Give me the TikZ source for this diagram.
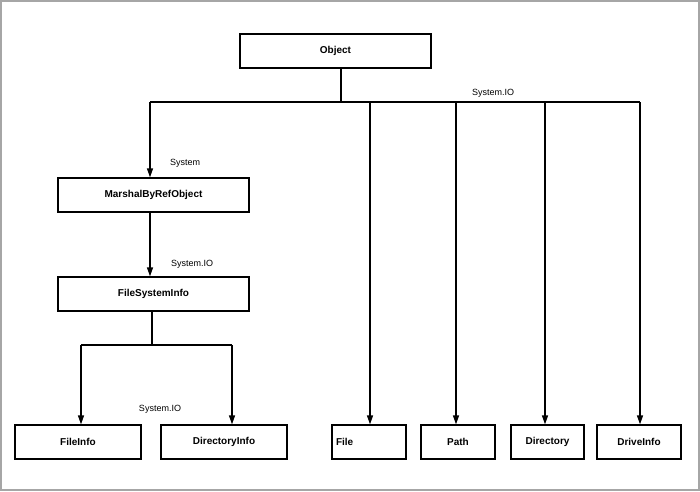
\documentclass[tikz,border=0pt]{standalone}
\usepackage{fontspec}
\setmainfont{Liberation Sans}
\usetikzlibrary{arrows.meta}
\begin{document}
\begin{tikzpicture}[x=1pt,y=-1pt,
  box/.style={draw,line width=1.3pt,minimum height=34pt,inner sep=0pt,font=\bfseries\fontsize{10}{12}\selectfont},
  conn/.style={line width=1.3pt},
  arr/.style={conn,-{Triangle[length=9pt,width=6pt]}},
  lbl/.style={font=\fontsize{9}{11}\selectfont,inner sep=0pt}]
\useasboundingbox (0,0) rectangle (700,491);
\draw[gray!70,line width=2pt] (1,1) rectangle (699,490);
\node[box,minimum width=191pt] (obj) at (335.5,51) {Object};
\node[box,minimum width=191pt] (mbro) at (153.5,195) {MarshalByRefObject};
\node[box,minimum width=191pt] (fsi) at (153.5,294) {FileSystemInfo};
\node[box,minimum width=126pt] (fi) at (78,442) {FileInfo};
\node[box,minimum width=126pt] (di) at (224,442) {DirectoryInfo};
\node[box,minimum width=74pt,text width=66pt,align=left] (file) at (369,442) {File};
\node[box,minimum width=74pt] (path) at (458,442) {Path};
\node[box,minimum width=73pt] (dir) at (547.5,442) {Directory};
\node[box,minimum width=84pt] (drv) at (639,442) {DriveInfo};
\coordinate (top) at (341,102);
\coordinate (fsj) at (152,345);
\draw[conn] (obj.south -| top) -- (top);
\draw[conn] (150,102) -- (640,102);
\draw[arr] (150,102) -- (mbro.north -| 150,0);
\draw[arr] (370,102) -- (file.north -| 370,0);
\draw[arr] (456,102) -- (path.north -| 456,0);
\draw[arr] (545,102) -- (dir.north -| 545,0);
\draw[arr] (640,102) -- (drv.north -| 640,0);
\draw[arr] (mbro.south -| 150,0) -- (fsi.north -| 150,0);
\draw[conn] (fsi.south -| fsj) -- (fsj);
\draw[conn] (81,345) -- (232,345);
\draw[arr] (81,345) -- (fi.north -| 81,0);
\draw[arr] (232,345) -- (di.north -| 232,0);
\node[lbl] (l1) at (493,93) {System.IO};
\node[lbl] (l2) at (185,163) {System};
\node[lbl] (l3) at (192,264) {System.IO};
\node[lbl] (l4) at (160,409) {System.IO};
\end{tikzpicture}
\end{document}
